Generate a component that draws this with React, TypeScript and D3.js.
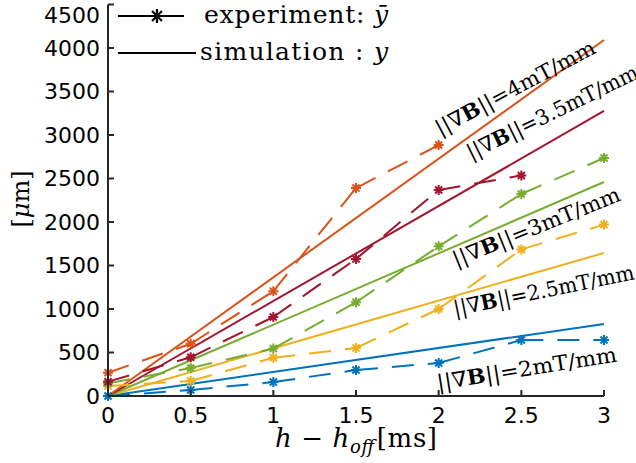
import React from "react";
import * as d3 from "d3";

const xs = [0, 0.5, 1, 1.5, 2, 2.5, 3];
const gradients = ["2", "2.5", "3", "3.5", "4"];
const colors = ["#0072BD", "#EDB120", "#77AC30", "#A2142F", "#D95319"];
const exp2 = [0, 69, 160, 299, 379, 644, 644];
const exp25 = [115, 172, 440, 552, 1000, 1685, 1970];
const exp3 = [145, 322, 545, 1078, 1720, 2322, 2736];
const exp35 = [165, 445, 908, 1575, 2368, 2535];
const exp4 = [268, 600, 1205, 2390, 2885];
const simX = [0, 3];
const sim2 = [0, 828];
const sim25 = [0, 1644];
const sim3 = [0, 2460];
const sim35 = [0, 3276];
const sim4 = [0, 4092];
const xTicks = [0, 0.5, 1, 1.5, 2, 2.5, 3];
const yTicks = [0, 500, 1000, 1500, 2000, 2500, 3000, 3500, 4000, 4500];
// label anchors in data coords (ms, µm) with rotation angle (deg) and length (px)
const labelX = [1.996, 2.099, 2.105, 2.196, 2.008];
const labelY = [69, 920, 1483, 2713, 2989];
const labelAngle = [9, 11.5, 22, 26, 28];
const labelLen = [182, 184, 179, 188, 178];

const W = 636, H = 463;
const axisColor = "#262626";

function Star({ cx, cy, r, color, sw }: any) {
  const d = [0, 45, 90, 135].map((a) => {
    const t = (a * Math.PI) / 180;
    const dx = Math.cos(t) * r, dy = Math.sin(t) * r;
    return `M${cx - dx},${cy - dy}L${cx + dx},${cy + dy}`;
  }).join("");
  return <path d={d} stroke={color} strokeWidth={sw} fill="none" />;
}

export default function App() {
  const x = d3.scaleLinear().domain([0, 3]).range([108, 604]);
  const y = d3.scaleLinear().domain([0, 4500]).range([396, 4.5]);
  const exps = [exp2, exp25, exp3, exp35, exp4];
  const sims = [sim2, sim25, sim3, sim35, sim4];
  const line = d3.line<[number, number]>().x((d) => x(d[0])).y((d) => y(d[1]));

  return (
    <svg width={W} height={H} style={{ position: "absolute", left: 0, top: 0, background: "#fff" }}>
      <rect width={W} height={H} fill="#fff" />
      {sims.map((s, i) => (
        <path key={"s" + i} d={line(simX.map((xv, j) => [xv, s[j]]) as any) || ""}
          stroke={colors[i]} strokeWidth={2} fill="none" />
      ))}
      {exps.map((e, i) => (
        <g key={"e" + i}>
          {e.slice(1).map((v, j) => (
            <path key={j} d={line([[xs[j], e[j]], [xs[j + 1], v]] as any) || ""}
              stroke={colors[i]} strokeWidth={2} fill="none" strokeDasharray="22 14" />
          ))}
          {e.map((v, j) => (
            <Star key={"m" + j} cx={x(xs[j])} cy={y(v)} r={5} color={colors[i]} sw={2} />
          ))}
        </g>
      ))}
      {/* axes */}
      <line x1={108} x2={108} y1={y(4500)} y2={y(0)} stroke={axisColor} strokeWidth={2} />
      <line x1={108} x2={x(3)} y1={y(0)} y2={y(0)} stroke={axisColor} strokeWidth={2} />
      {yTicks.map((t) => (
        <g key={"yt" + t}>
          <line x1={108} x2={114} y1={y(t)} y2={y(t)} stroke={axisColor} strokeWidth={2} />
          <text x={100} y={Math.max(y(t), 15)} dy="0.36em" textAnchor="end" fontFamily="DejaVu Sans" fontSize={22} fill="#000">{t}</text>
        </g>
      ))}
      {xTicks.map((t) => (
        <g key={"xt" + t}>
          <line x1={x(t)} x2={x(t)} y1={y(0)} y2={y(0) - 6} stroke={axisColor} strokeWidth={2} />
          <text x={x(t)} y={423} textAnchor="middle" fontFamily="DejaVu Sans" fontSize={22} fill="#000">{t}</text>
        </g>
      ))}
      {/* axis labels */}
      <text x={275} y={447} fontFamily="DejaVu Serif" fontSize={26} fill="#000" textLength={162} lengthAdjust="spacing">
        <tspan fontStyle="italic">h</tspan>
        <tspan> − </tspan>
        <tspan fontStyle="italic">h</tspan>
        <tspan fontStyle="italic" fontSize={18} dy={6}>off</tspan>
        <tspan dx={2} dy={-6}>[ms]</tspan>
      </text>
      <text transform={`translate(29,199) rotate(-90)`} textAnchor="middle" fontFamily="DejaVu Serif" fontSize={24} fill="#000">
        [<tspan fontStyle="italic">μ</tspan>m]
      </text>
      {/* annotations */}
      {gradients.map((g, i) => (
        <text key={"l" + i} transform={`translate(${x(labelX[i])},${y(labelY[i])}) rotate(${-labelAngle[i]})`}
          fontFamily="DejaVu Serif" fontSize={21} fill="#000" textLength={labelLen[i]} lengthAdjust="spacingAndGlyphs">
          ||∇<tspan fontWeight="bold">B</tspan>||=<tspan>{g}mT/mm</tspan>
        </text>
      ))}
      {/* legend */}
      <line x1={118} x2={184} y1={16} y2={16} stroke="#000" strokeWidth={2} />
      <Star cx={157} cy={16} r={7} color="#000" sw={2.2} />
      <text x={204} y={23} fontFamily="DejaVu Serif" fontSize={25} fill="#000" textLength={184} lengthAdjust="spacing">
        experiment: <tspan fontStyle="italic">ȳ</tspan>
      </text>
      <line x1={118} x2={196} y1={53} y2={53} stroke="#000" strokeWidth={2} />
      <text x={200} y={60} fontFamily="DejaVu Serif" fontSize={25} fill="#000" textLength={188} lengthAdjust="spacing">
        simulation : <tspan fontStyle="italic">y</tspan>
      </text>
    </svg>
  );
}
